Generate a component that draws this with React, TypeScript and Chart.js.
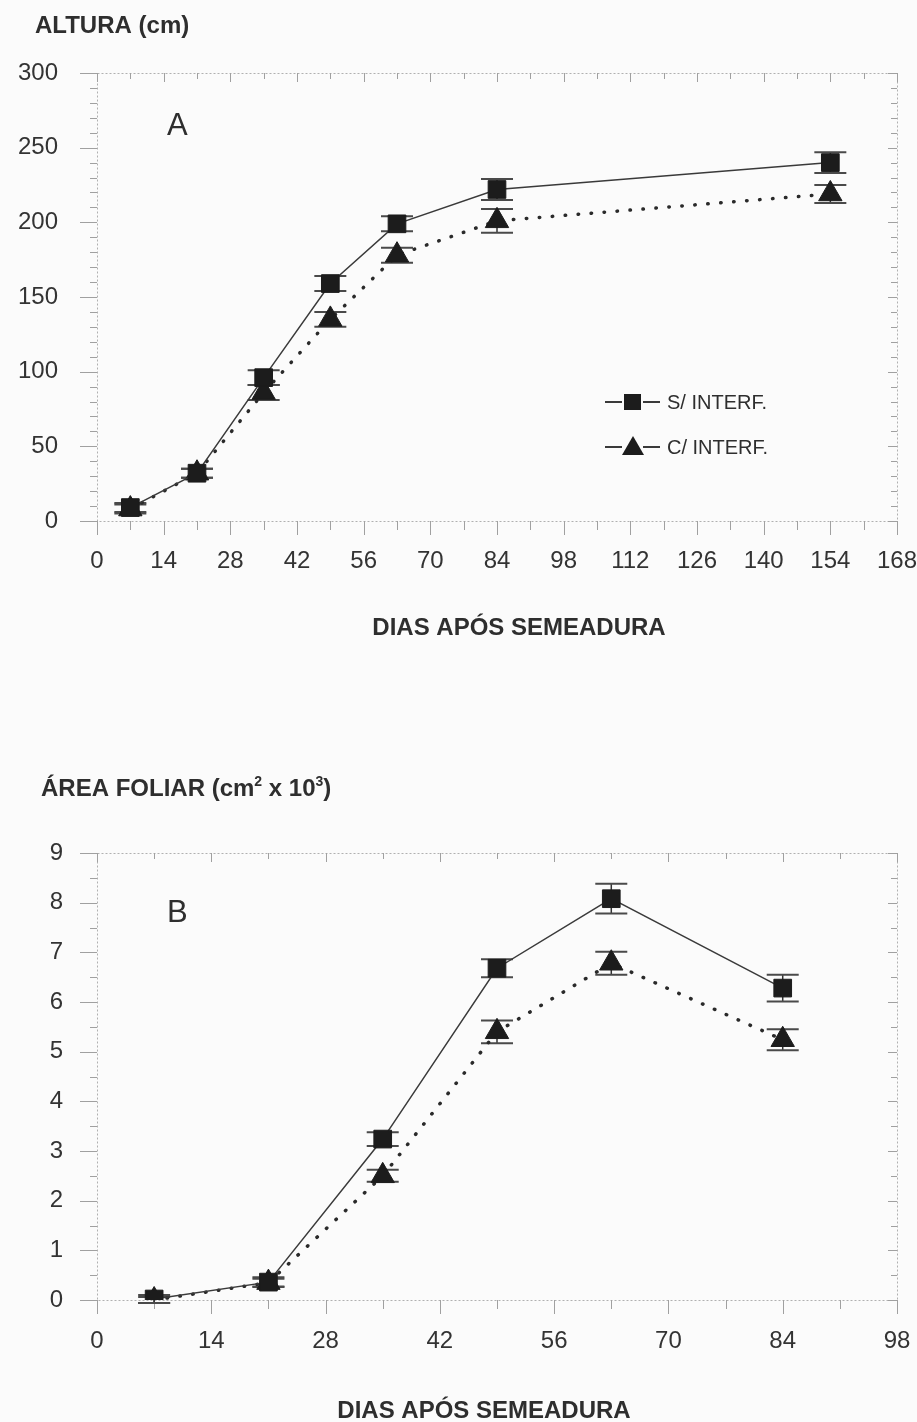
import React, { useEffect, useRef } from 'react';
import { Chart, registerables } from 'chart.js';
Chart.register(...registerables);

// ---------- DATA ----------
const daysA = [7, 21, 35, 49, 63, 84, 154];
const alturaSem = [9, 32, 96, 159, 199, 222, 240];
const alturaSemErr = [3, 3, 5, 5, 5, 7, 7];
const alturaCom = [8, 32, 86, 135, 178, 201, 219];
const alturaComErr = [3, 3, 5, 5, 5, 8, 6];

const daysB = [7, 21, 35, 49, 63, 84];
const areaSem = [0.02, 0.36, 3.24, 6.68, 8.08, 6.28];
const areaSemErr = [0.08, 0.1, 0.14, 0.18, 0.3, 0.27];
const areaCom = [0.0, 0.35, 2.5, 5.4, 6.78, 5.24];
const areaComErr = [0.06, 0.08, 0.12, 0.23, 0.23, 0.21];

const xTicksA = [0, 14, 28, 42, 56, 70, 84, 98, 112, 126, 140, 154, 168];
const yTicksA = [0, 50, 100, 150, 200, 250, 300];
const xTicksB = [0, 14, 28, 42, 56, 70, 84, 98];
const yTicksB = [0, 1, 2, 3, 4, 5, 6, 7, 8, 9];

const seriesNames = ['S/ INTERF.', 'C/ INTERF.'];

// ---------- STYLE ----------
const FONT = "'Liberation Sans', Arial, sans-serif";
const MARK = '#1c1c1c';
const LINE = '#3a3a3a';
const TXT = '#2e2e2e';

const framePlugin = {
  id: 'frame',
  beforeDatasetsDraw(chart: any, _a: any, o: any) {
    const { ctx, chartArea: a } = chart;
    const x = chart.scales.x, y = chart.scales.y;
    ctx.save();
    ctx.strokeStyle = '#b0b0b0';
    ctx.lineWidth = 1;
    ctx.setLineDash([2, 2]);
    ctx.strokeRect(Math.round(a.left) + 0.5, Math.round(a.top) + 0.5, Math.round(a.right - a.left), Math.round(a.bottom - a.top));
    ctx.setLineDash([]);
    ctx.strokeStyle = '#a0a0a0';
    ctx.beginPath();
    const isMult = (v: number, m: number) => Math.abs(v / m - Math.round(v / m)) < 1e-6;
    for (let v = x.min; v <= x.max + 1e-9; v += o.xMinor) {
      const px = Math.round(x.getPixelForValue(v)) + 0.5;
      const major = isMult(v, o.xMajor);
      ctx.moveTo(px, a.bottom);
      ctx.lineTo(px, a.bottom + (major ? o.bMajor : o.bMinor));
      ctx.moveTo(px, a.top);
      ctx.lineTo(px, a.top + (major ? 9 : 6));
    }
    for (let v = y.min; v <= y.max + 1e-9; v += o.yMinor) {
      const py = Math.round(y.getPixelForValue(v)) + 0.5;
      const major = isMult(v, o.yMajor);
      ctx.moveTo(a.left, py);
      ctx.lineTo(a.left - (major ? 17 : 7), py);
      ctx.moveTo(a.right, py);
      ctx.lineTo(a.right - (major ? 9 : 6), py);
    }
    ctx.stroke();
    ctx.restore();
  },
};

const errorBarPlugin = {
  id: 'errbars',
  beforeDatasetsDraw(chart: any, _a: any, o: any) {
    const { ctx } = chart;
    const x = chart.scales.x, y = chart.scales.y;
    ctx.save();
    chart.data.datasets.forEach((ds: any, i: number) => {
      const errs = o.errors[i];
      if (!errs) return;
      ds.data.forEach((pt: any, j: number) => {
        const px = x.getPixelForValue(pt.x);
        const t = y.getPixelForValue(pt.y + errs[j]);
        const b = y.getPixelForValue(pt.y - errs[j]);
        ctx.strokeStyle = '#333';
        ctx.lineWidth = 1.5;
        ctx.beginPath();
        ctx.moveTo(px, t);
        ctx.lineTo(px, b);
        ctx.stroke();
        ctx.strokeStyle = '#4a4a4a';
        ctx.lineWidth = 2;
        ctx.beginPath();
        ctx.moveTo(px - o.cap, t);
        ctx.lineTo(px + o.cap, t);
        ctx.moveTo(px - o.cap, b);
        ctx.lineTo(px + o.cap, b);
        ctx.stroke();
      });
    });
    ctx.restore();
  },
};

function drawRich(ctx: CanvasRenderingContext2D, parts: { t: string; sup?: boolean }[], x: number, y: number, size: number) {
  let cx = x;
  parts.forEach((p) => {
    ctx.font = `bold ${p.sup ? Math.round(size * 0.6) : size}px ${FONT}`;
    ctx.fillText(p.t, cx, p.sup ? y - size * 0.42 : y);
    cx += ctx.measureText(p.t).width;
  });
}

const textPlugin = {
  id: 'texts',
  afterDraw(chart: any, _a: any, o: any) {
    const { ctx } = chart;
    ctx.save();
    ctx.fillStyle = TXT;
    ctx.textBaseline = 'alphabetic';
    ctx.textAlign = 'left';
    drawRich(ctx, o.yTitle, o.yTitlePos[0], o.yTitlePos[1], 24);
    ctx.font = `31px ${FONT}`;
    ctx.fillText(o.letter, o.letterPos[0], o.letterPos[1]);
    ctx.font = `bold 24px ${FONT}`;
    ctx.textAlign = 'center';
    ctx.fillText(o.xTitle, o.xTitlePos[0], o.xTitlePos[1]);
    if (o.legend) {
      const [lx, ly] = o.legend;
      const rows = [ly, ly + 45];
      rows.forEach((ry, i) => {
        ctx.strokeStyle = LINE;
        ctx.lineWidth = 2;
        ctx.beginPath();
        ctx.moveTo(lx, ry);
        ctx.lineTo(lx + 17, ry);
        ctx.moveTo(lx + 38, ry);
        ctx.lineTo(lx + 55, ry);
        ctx.stroke();
        ctx.fillStyle = MARK;
        if (i === 0) {
          ctx.fillRect(lx + 19, ry - 8, 17, 16);
        } else {
          ctx.beginPath();
          ctx.moveTo(lx + 28, ry - 11);
          ctx.lineTo(lx + 39, ry + 8);
          ctx.lineTo(lx + 17, ry + 8);
          ctx.closePath();
          ctx.fill();
        }
        ctx.fillStyle = TXT;
        ctx.font = `20px ${FONT}`;
        ctx.textAlign = 'left';
        ctx.textBaseline = 'middle';
        ctx.fillText(seriesNames[i], lx + 62, ry + 1);
      });
    }
    ctx.restore();
  },
};

function makeConfig(p: any) {
  return {
    type: 'line',
    data: {
      datasets: [
        {
          label: seriesNames[0],
          data: p.days.map((d: number, i: number) => ({ x: d, y: p.sem[i] })),
          borderColor: LINE,
          borderWidth: 1.5,
          pointStyle: 'rect',
          pointRadius: 12.5,
          pointBackgroundColor: MARK,
          pointBorderColor: MARK,
          pointBorderWidth: 1,
          tension: 0,
        },
        {
          label: seriesNames[1],
          data: p.days.map((d: number, i: number) => ({ x: d, y: p.com[i] })),
          borderColor: '#2a2a2a',
          borderWidth: 3.5,
          borderDash: [0.5, 12.5],
          borderCapStyle: 'round',
          pointStyle: 'triangle',
          pointRadius: 13.5,
          pointBackgroundColor: MARK,
          pointBorderColor: MARK,
          pointBorderWidth: 1,
          tension: 0,
        },
      ],
    },
    options: {
      responsive: false,
      animation: false,
      layout: { padding: { top: p.top, right: 20, left: 0, bottom: 0 } },
      plugins: {
        legend: { display: false },
        tooltip: { enabled: false },
        frame: p.frame,
        errbars: { errors: [p.semErr, p.comErr], cap: 16 },
        texts: p.texts,
      },
      scales: {
        x: {
          type: 'linear',
          min: p.xTicks[0],
          max: p.xTicks[p.xTicks.length - 1],
          afterBuildTicks: (s: any) => { s.ticks = p.xTicks.map((v: number) => ({ value: v })); },
          afterFit: (s: any) => {
            s.height = p.xH;
            s.paddingLeft = 0; s.paddingRight = 0; s.paddingTop = 0; s.paddingBottom = 0;
          },
          grid: { display: false, drawTicks: false, tickLength: 0 },
          border: { display: false },
          ticks: { padding: p.xPad, color: '#333', font: { family: FONT, size: 24 }, maxRotation: 0, autoSkip: false },
        },
        y: {
          type: 'linear',
          min: p.yTicks[0],
          max: p.yTicks[p.yTicks.length - 1],
          afterBuildTicks: (s: any) => { s.ticks = p.yTicks.map((v: number) => ({ value: v })); },
          afterFit: (s: any) => {
            s.width = 97;
            s.paddingLeft = 0; s.paddingRight = 0; s.paddingTop = 0; s.paddingBottom = 0;
          },
          grid: { display: false, drawTicks: false, tickLength: 0 },
          border: { display: false },
          ticks: { padding: p.yPad, color: '#333', font: { family: FONT, size: 24 }, autoSkip: false },
        },
      },
    },
    plugins: [framePlugin, errorBarPlugin, textPlugin],
  };
}

function ChartCanvas({ top, height, cfg }: { top: number; height: number; cfg: any }) {
  const ref = useRef<HTMLCanvasElement>(null);
  useEffect(() => {
    const chart = new Chart(ref.current as HTMLCanvasElement, cfg);
    return () => chart.destroy();
  }, []);
  return (
    <canvas
      ref={ref}
      width={917}
      height={height}
      style={{ position: 'absolute', left: 0, top, width: 917, height }}
    />
  );
}

export default function App() {
  const cfgA = makeConfig({
    days: daysA, sem: alturaSem, semErr: alturaSemErr, com: alturaCom, comErr: alturaComErr,
    xTicks: xTicksA, yTicks: yTicksA, top: 73, xH: 700 - 521, xPad: 26, yPad: 39,
    frame: { xMinor: 7, xMajor: 14, yMinor: 10, yMajor: 50, bMajor: 14, bMinor: 9 },
    texts: {
      yTitle: [{ t: 'ALTURA (cm)' }], yTitlePos: [35, 33],
      letter: 'A', letterPos: [167, 135],
      xTitle: 'DIAS APÓS SEMEADURA', xTitlePos: [519, 635],
      legend: [605, 402],
    },
  });
  const cfgB = makeConfig({
    days: daysB, sem: areaSem, semErr: areaSemErr, com: areaCom, comErr: areaComErr,
    xTicks: xTicksB, yTicks: yTicksB, top: 153, xH: 722 - 600, xPad: 27, yPad: 34,
    frame: { xMinor: 7, xMajor: 14, yMinor: 0.5, yMajor: 1, bMajor: 14, bMinor: 9 },
    texts: {
      yTitle: [{ t: 'ÁREA FOLIAR (cm' }, { t: '2', sup: true }, { t: ' x 10' }, { t: '3', sup: true }, { t: ')' }],
      yTitlePos: [41, 96],
      letter: 'B', letterPos: [167, 222],
      xTitle: 'DIAS APÓS SEMEADURA', xTitlePos: [484, 718],
      legend: null,
    },
  });
  return (
    <div style={{ position: 'absolute', left: 0, top: 0, width: 917, height: 1422, background: '#fbfbfb', overflow: 'hidden' }}>
      <ChartCanvas top={0} height={700} cfg={cfgA} />
      <ChartCanvas top={700} height={722} cfg={cfgB} />
    </div>
  );
}
